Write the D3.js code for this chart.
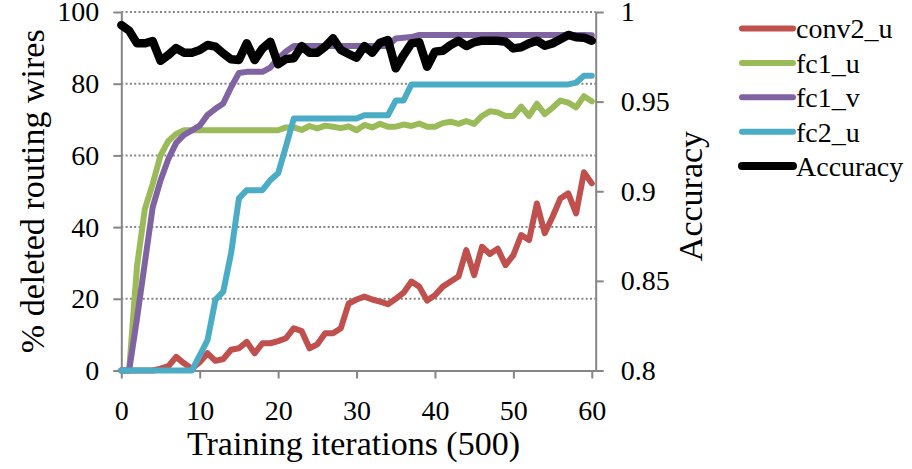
<!DOCTYPE html>
<html>
<head>
<meta charset="utf-8">
<script src="https://cdn.jsdelivr.net/npm/d3@7"></script>
<style>
  html, body { margin: 0; padding: 0; background: #fff; }
  svg { display: block; }
  svg text { font-family: "Liberation Serif", "DejaVu Serif", serif; }
</style>
</head>
<body>
<svg id="chart" width="912" height="469"></svg>
<script>
// Training iteration index (units of 500 iterations)
const iterations = [
  0, 1, 2, 3, 4, 5, 6, 7, 8, 9,
  10, 11, 12, 13, 14, 15, 16, 17, 18, 19,
  20, 21, 22, 23, 24, 25, 26, 27, 28, 29,
  30, 31, 32, 33, 34, 35, 36, 37, 38, 39,
  40, 41, 42, 43, 44, 45, 46, 47, 48, 49,
  50, 51, 52, 53, 54, 55, 56, 57, 58, 59,
  60
];

// % of routing wires deleted, per layer
const conv2_u = [
  0, 0, 0, 0, 0, 0.5, 1.2, 3.8, 2, 0.5,
  2.3, 4.8, 2.7, 3.2, 5.8, 6.2, 8, 4.8, 7.6, 7.6,
  8.2, 9, 11.8, 11, 6.2, 7.3, 10.4, 10.4, 11.8, 18.7,
  19.8, 20.6, 19.8, 19.2, 18.5, 20, 21.7, 24.8, 23.4, 19.5,
  21, 23.4, 24.8, 26.2, 33.6, 26.6, 34.5, 32.5, 34, 29.4,
  32.2, 37.8, 36.4, 46.6, 38.3, 42.9, 48, 49.4, 43.8, 55.3,
  52.2
];

const fc1_u = [
  0, 0, 29, 45, 52, 60, 64, 66, 67, 67,
  67, 67, 67, 67, 67, 67, 67, 67, 67, 67,
  67, 67.8, 67.8, 67.1, 68.2, 67.5, 68.3, 68, 67.6, 68.1,
  67, 68.5, 67.8, 68.8, 68, 68, 68.6, 68.2, 68.9, 68,
  68, 69, 69.4, 68.8, 69.6, 68.8, 71, 72.3, 72, 71,
  71, 73.6, 71, 74.4, 71.5, 73.3, 75.3, 74.7, 73.4, 76.5,
  75.1
];

const fc1_v = [
  0, 0, 14.5, 30, 45.5, 53, 59, 63.5, 65.7, 67,
  68.3, 71.3, 73, 74.5, 79, 83, 83.3, 83.3, 83.3, 84.5,
  87, 89, 90.5, 90.5, 90.5, 90.5, 90.5, 90.5, 90.5, 90.5,
  90.5, 90.5, 90.5, 90.5, 90.5, 92.6, 92.8, 93, 93.6, 93.6,
  93.6, 93.6, 93.6, 93.6, 93.6, 93.6, 93.6, 93.6, 93.6, 93.6,
  93.6, 93.6, 93.6, 93.6, 93.6, 93.6, 93.6, 93.6, 93.6, 93.6,
  93.5
];

const fc2_u = [
  0, 0, 0, 0, 0, 0, 0, 0, 0, 0,
  4.2, 8.5, 19.7, 22, 32.7, 48, 50.3, 50.3, 50.3, 53.1,
  55, 62.5, 70.3, 70.3, 70.3, 70.3, 70.3, 70.3, 70.3, 70.3,
  70.3, 71.2, 71.2, 71.2, 71.2, 75.3, 75.3, 79.8, 79.8, 79.8,
  79.8, 79.8, 79.8, 79.8, 79.8, 79.8, 79.8, 79.8, 79.8, 79.8,
  79.8, 79.8, 79.8, 79.8, 79.8, 79.8, 79.8, 79.8, 80.3, 82.2,
  82.2
];

// Test accuracy (secondary axis)
const accuracy = [
  0.9927, 0.9896, 0.9825, 0.9825, 0.9838, 0.9728, 0.976, 0.9799, 0.9773, 0.9773,
  0.9788, 0.9816, 0.9807, 0.9769, 0.9736, 0.9732, 0.9825, 0.9732, 0.9797, 0.9834,
  0.9708, 0.9738, 0.9742, 0.981, 0.9773, 0.9773, 0.9807, 0.9853, 0.9788, 0.9766,
  0.9745, 0.981, 0.9773, 0.9829, 0.9844, 0.9686, 0.976, 0.9825, 0.9831, 0.9695,
  0.9779, 0.9784, 0.9816, 0.984, 0.981, 0.9831, 0.984, 0.984, 0.984, 0.9834,
  0.9797, 0.9803, 0.9825, 0.984, 0.9812, 0.9825, 0.9848, 0.9872, 0.9859, 0.9857,
  0.984
];

const seriesNames = ["conv2_u", "fc1_u", "fc1_v", "fc2_u", "Accuracy"];
const seriesColors = ["#C0504D", "#9BBB59", "#8064A2", "#4BACC6", "#000000"];

const xTicks = [0, 10, 20, 30, 40, 50, 60];
const leftTicks = [0, 20, 40, 60, 80, 100];
const rightTicks = [0.8, 0.85, 0.9, 0.95, 1];
const rightTickLabels = ["0.8", "0.85", "0.9", "0.95", "1"];

const FONT = '"Liberation Serif", "DejaVu Serif", serif';

const svg = d3.select("#chart");
const plot = { left: 121.3, right: 595.7, top: 12, bottom: 370.5 };

const x = d3.scaleLinear().domain([0, 60.5]).range([plot.left, plot.right]);
const yL = d3.scaleLinear().domain([0, 100]).range([plot.bottom, plot.top]);
const yR = d3.scaleLinear().domain([0.8, 1]).range([plot.bottom, plot.top]);

const axisColor = "#868686";

// dotted horizontal gridlines
svg.append("g")
  .selectAll("line")
  .data(leftTicks.filter(d => d > 0))
  .join("line")
  .attr("x1", plot.left).attr("x2", plot.right)
  .attr("y1", d => yL(d)).attr("y2", d => yL(d))
  .attr("stroke", axisColor)
  .attr("stroke-width", 2)
  .attr("stroke-dasharray", "2,2.3");

function styleAxis(g) {
  g.attr("font-family", FONT).attr("font-size", 28);
  g.select(".domain").attr("stroke", axisColor).attr("stroke-width", 2);
  g.selectAll(".tick line").attr("stroke", axisColor).attr("stroke-width", 2);
  g.selectAll(".tick text")
    .attr("fill", "#000")
    .attr("font-family", FONT)
    .attr("font-size", 28);
}

svg.append("g")
  .attr("transform", `translate(0,${plot.bottom})`)
  .call(d3.axisBottom(x).tickValues(xTicks).tickSize(8).tickPadding(22).tickSizeOuter(0))
  .call(styleAxis);

svg.append("g")
  .attr("transform", `translate(${plot.left},0)`)
  .call(d3.axisLeft(yL).tickValues(leftTicks).tickSize(8).tickPadding(14).tickSizeOuter(0))
  .call(styleAxis);

svg.append("g")
  .attr("transform", `translate(${plot.right},0)`)
  .call(d3.axisRight(yR).tickValues(rightTicks)
    .tickFormat((d, i) => rightTickLabels[i])
    .tickSize(8).tickPadding(17).tickSizeOuter(0))
  .call(styleAxis);

// axis titles
svg.append("text")
  .attr("x", (plot.left + plot.right) / 2 - 5)
  .attr("y", 455)
  .attr("text-anchor", "middle")
  .attr("font-family", FONT)
  .attr("font-size", 34)
  .text("Training iterations (500)");

svg.append("text")
  .attr("transform", `translate(44,${(plot.top + plot.bottom) / 2}) rotate(-90)`)
  .attr("text-anchor", "middle")
  .attr("font-family", FONT)
  .attr("font-size", 34)
  .text("% deleted routing wires");

svg.append("text")
  .attr("transform", `translate(702,196) rotate(-90)`)
  .attr("text-anchor", "middle")
  .attr("font-family", FONT)
  .attr("font-size", 34)
  .text("Accuracy");

// series lines
const lineL = d3.line().x((d, i) => x(iterations[i])).y(d => yL(d));
const lineR = d3.line().x((d, i) => x(iterations[i])).y(d => yR(d));

const leftSeries = [conv2_u, fc1_u, fc1_v, fc2_u];
leftSeries.forEach((vals, k) => {
  svg.append("path")
    .datum(vals)
    .attr("d", lineL)
    .attr("fill", "none")
    .attr("stroke", seriesColors[k])
    .attr("stroke-width", 6)
    .attr("stroke-linejoin", "round")
    .attr("stroke-linecap", "round");
});

svg.append("path")
  .datum(accuracy)
  .attr("d", lineR)
  .attr("fill", "none")
  .attr("stroke", seriesColors[4])
  .attr("stroke-width", 8.5)
  .attr("stroke-linejoin", "round")
  .attr("stroke-linecap", "round");

// legend
const legend = svg.append("g").attr("transform", "translate(742,28.5)");
const item = legend.selectAll("g")
  .data(seriesNames)
  .join("g")
  .attr("transform", (d, i) => `translate(0,${i * 34.4})`);
item.append("line")
  .attr("x1", 0).attr("x2", 51)
  .attr("stroke", (d, i) => seriesColors[i])
  .attr("stroke-width", (d, i) => i === 4 ? 8 : 6)
  .attr("stroke-linecap", "round");
item.append("text")
  .attr("x", 54)
  .attr("dy", "0.35em")
  .attr("font-family", FONT)
  .attr("font-size", 28)
  .text(d => d);
</script>
</body>
</html>
